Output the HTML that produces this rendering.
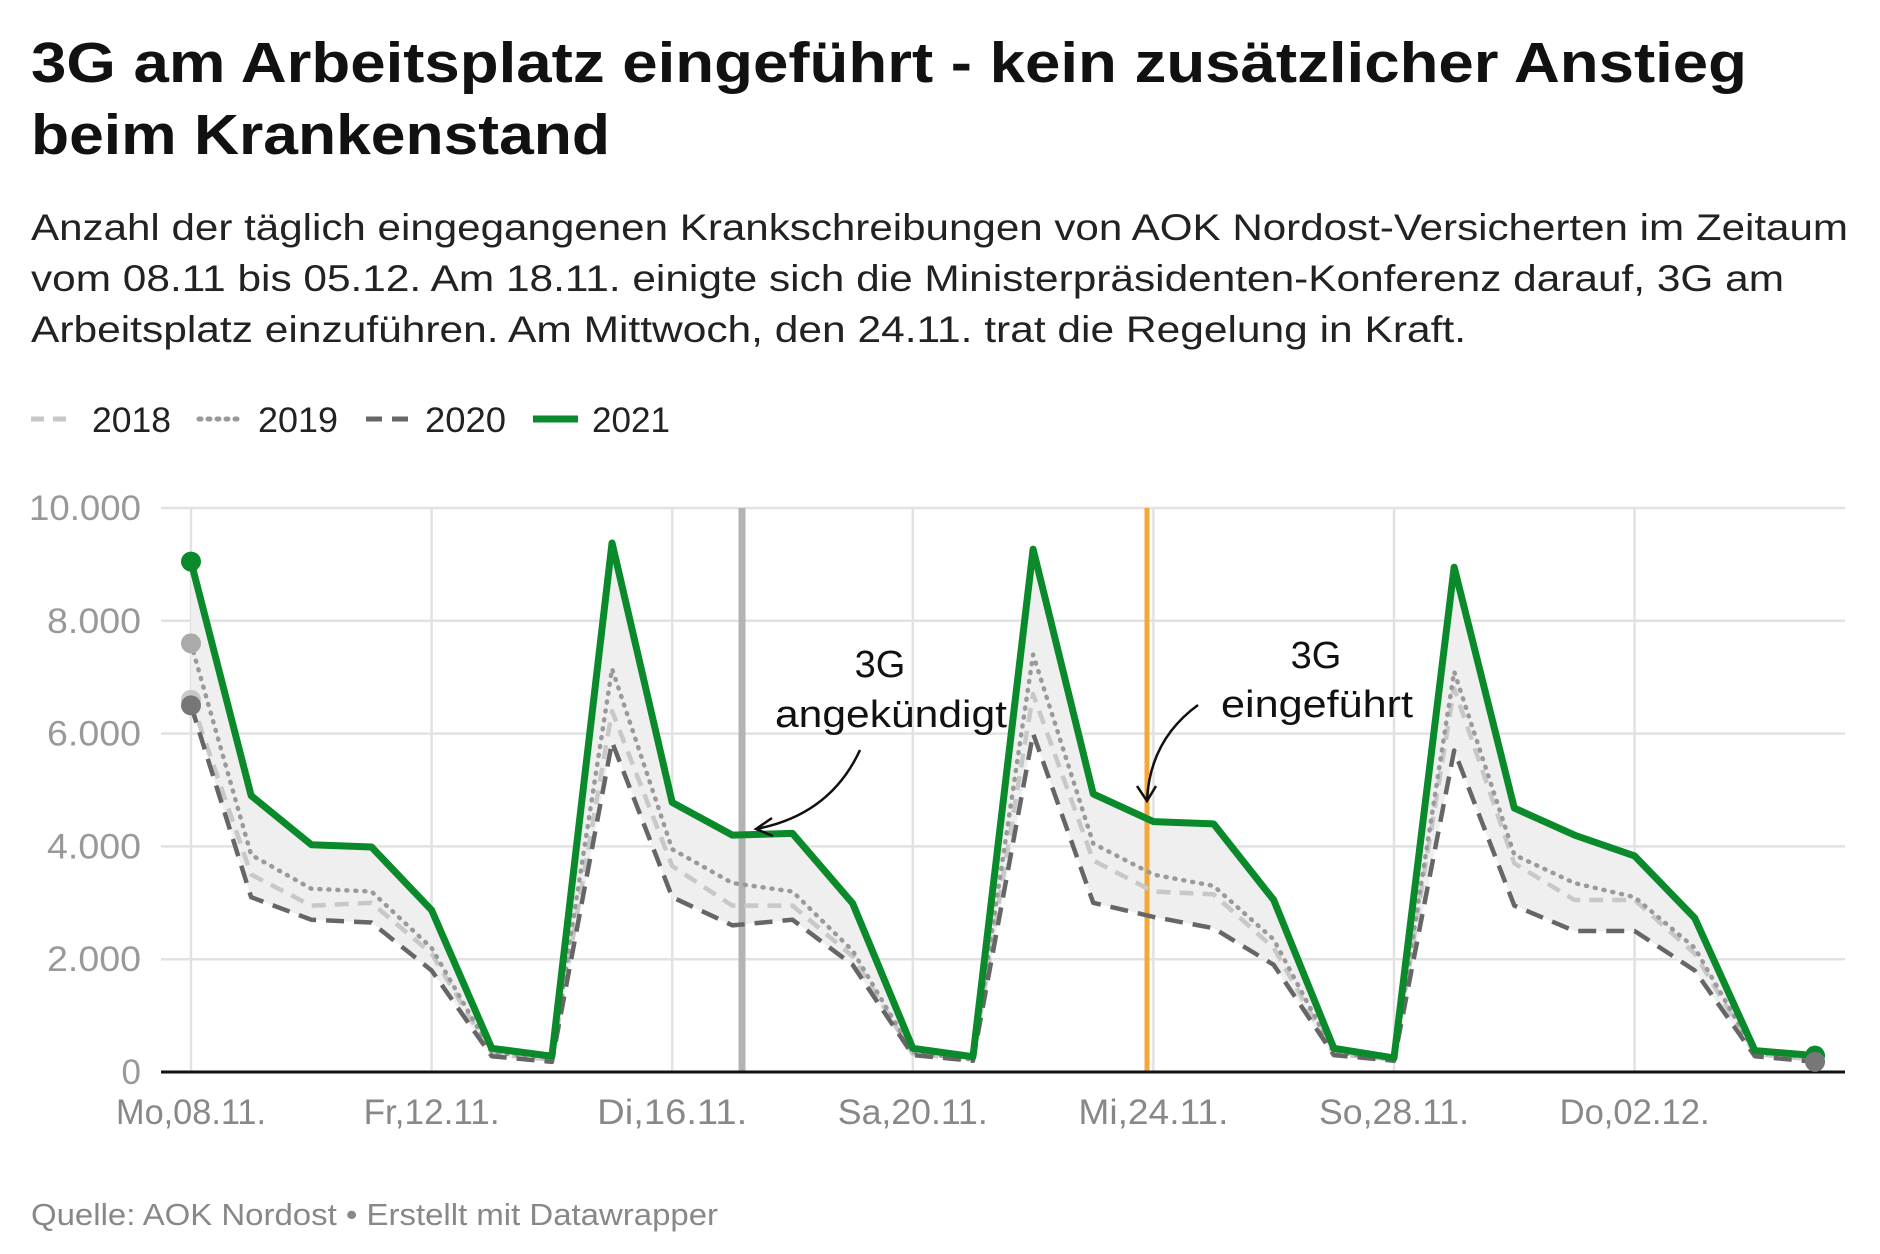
<!DOCTYPE html>
<html><head><meta charset="utf-8">
<style>
body{margin:0;background:#fff;width:1880px;height:1254px;overflow:hidden;font-family:"Liberation Sans",sans-serif;}
</style></head><body>
<svg id="c" width="1880" height="1254" style="position:absolute;left:0;top:0" font-family="Liberation Sans, sans-serif"></svg>
<script>
const X0=191,ST=60.15,Y0=1072,H=564;
const px=i=>X0+i*ST, py=v=>Y0-v/10000*H;
const d21=[9050,4900,4030,3990,2870,420,280,9380,4780,4200,4230,2990,420,270,9270,4930,4440,4400,3050,420,250,8950,4680,4200,3830,2730,380,290];
const d19=[7600,3850,3250,3200,2200,350,250,7150,3950,3350,3200,2150,350,220,7400,4050,3500,3300,2350,350,230,7100,3850,3350,3100,2200,350,250];
const d18=[6600,3500,2950,3000,2100,320,220,6400,3650,2950,2950,2050,320,220,6700,3750,3200,3150,2200,320,220,6800,3700,3050,3050,2100,320,220];
const d20=[6500,3100,2700,2650,1800,280,180,5850,3100,2600,2700,1900,300,200,6000,3000,2750,2550,1900,300,200,5700,2950,2500,2500,1800,280,180];
let s='';
const T=(x,y,fs,fill,txt,len,extra)=>`<text x="${x}" y="${y}" font-size="${fs}" fill="${fill}" ${len?`textLength="${len}" lengthAdjust="spacingAndGlyphs"`:''} ${extra||''}>${txt}</text>`;
s+=T(31,82,57,'#111','3G am Arbeitsplatz eingeführt - kein zusätzlicher Anstieg',1716,'font-weight="bold"');
s+=T(31,154,57,'#111','beim Krankenstand',579,'font-weight="bold"');
s+=T(31,240,37,'#222','Anzahl der täglich eingegangenen Krankschreibungen von AOK Nordost-Versicherten im Zeitaum',1817);
s+=T(31,291,37,'#222','vom 08.11 bis 05.12. Am 18.11. einigte sich die Ministerpräsidenten-Konferenz darauf, 3G am',1753);
s+=T(31,342,37,'#222','Arbeitsplatz einzuführen. Am Mittwoch, den 24.11. trat die Regelung in Kraft.',1435);
// legend
s+=`<line x1="31" y1="419" x2="74" y2="419" stroke="#c8c8c8" stroke-width="5" stroke-dasharray="13,9"/>`+T(92,432,35,'#222','2018',79);
s+=`<line x1="199" y1="419" x2="242" y2="419" stroke="#999" stroke-width="5" stroke-dasharray="2,7" stroke-linecap="round"/>`+T(258,432,35,'#222','2019',80);
s+=`<line x1="366" y1="419" x2="412" y2="419" stroke="#666" stroke-width="5" stroke-dasharray="16,10"/>`+T(425,432,35,'#222','2020',81);
s+=`<line x1="533" y1="419" x2="578" y2="419" stroke="#0a8a2a" stroke-width="7"/>`+T(592,432,35,'#222','2021',78);
// grid
for(let k=0;k<=5;k++){const v=k*2000,yy=py(v);
 if(k>0)s+=`<line x1="161" y1="${yy}" x2="1845" y2="${yy}" stroke="#e2e2e2" stroke-width="2.5"/>`;
 const lab=v?(v/1000).toFixed(3):'0';
 s+=`<text x="141" y="${yy+12}" font-size="35" fill="#999" text-anchor="end" ${v?`textLength="${v==10000?112:94}" lengthAdjust="spacingAndGlyphs"`:''}>${lab}</text>`;}
const labs=['Mo,08.11.','Fr,12.11.','Di,16.11.','Sa,20.11.','Mi,24.11.','So,28.11.','Do,02.12.'];
labs.forEach((l,k)=>{const xx=px(4*k);s+=`<line x1="${xx}" y1="508" x2="${xx}" y2="1072" stroke="#e2e2e2" stroke-width="2.5"/><text x="${xx}" y="1124" font-size="35" fill="#888" text-anchor="middle" textLength="${k==1?136:150}" lengthAdjust="spacingAndGlyphs">${l}</text>`;});
// area
const up=d21.map((v,i)=>`${px(i)},${py(v)}`), lo=d20.map((v,i)=>`${px(i)},${py(v)}`).reverse();
s+=`<polygon points="${up.join(' ')} ${lo.join(' ')}" fill="#efefef"/>`;
const pl=(d,c,w,da,cap)=>`<polyline points="${d.map((v,i)=>px(i)+','+py(v)).join(' ')}" fill="none" stroke="${c}" stroke-width="${w}" stroke-dasharray="${da}" stroke-linejoin="round" stroke-linecap="${cap||'butt'}"/>`;
s+=`<line x1="742" y1="508" x2="742" y2="1072" stroke="#b3b3b3" stroke-width="7"/>`;
s+=`<line x1="1147" y1="508" x2="1147" y2="1072" stroke="#f5a73a" stroke-width="5"/>`;
s+=pl(d18,'#c8c8c8',4.5,'14,9');
s+=pl(d19,'#9a9a9a',4.5,'1,8','round');
s+=pl(d20,'#666',4.5,'18,10');
s+=pl(d21,'#0a8a2a',7,'');
s+=`<line x1="161" y1="1072" x2="1845" y2="1072" stroke="#111" stroke-width="3"/>`;
s+=`<circle cx="${px(0)}" cy="${py(7600)}" r="10" fill="#aaa"/><circle cx="${px(0)}" cy="${py(6600)}" r="10" fill="#c8c8c8"/><circle cx="${px(0)}" cy="${py(6500)}" r="10" fill="#777"/><circle cx="${px(0)}" cy="${py(9050)}" r="10" fill="#0a8a2a"/>`;
s+=`<circle cx="${px(27)}" cy="${py(290)}" r="10" fill="#0a8a2a"/><circle cx="${px(27)}" cy="${py(180)}" r="10" fill="#777"/>`;
// annotations
s+=`<text x="880" y="677" font-size="38" fill="#111" text-anchor="middle">3G</text>`+T(775,727,38,'#111','angekündigt',232);
s+=`<text x="1316" y="668" font-size="38" fill="#111" text-anchor="middle">3G</text>`+T(1221,717,38,'#111','eingeführt',192);
s+=`<path d="M860,750 Q830,815 756,829" fill="none" stroke="#111" stroke-width="2.5"/><path d="M772,818 L756,829 L773,836" fill="none" stroke="#111" stroke-width="2.5"/>`;
s+=`<path d="M1198,705 Q1150,740 1147,800" fill="none" stroke="#111" stroke-width="2.5"/><path d="M1137,786 L1147,801 L1156,786" fill="none" stroke="#111" stroke-width="2.5"/>`;
s+=T(31,1225,31,'#888','Quelle: AOK Nordost • Erstellt mit Datawrapper',687);
document.getElementById('c').innerHTML=s;
</script>
</body></html>
